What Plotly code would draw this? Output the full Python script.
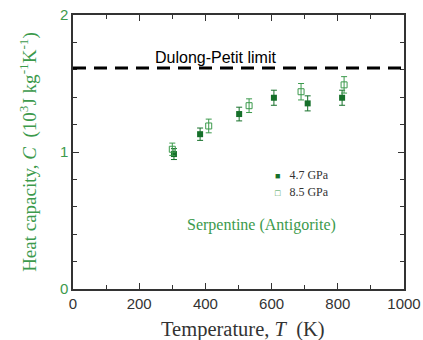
import plotly.graph_objects as go

T_47 = [305, 384, 502, 607, 709, 813]
C_47 = [0.985, 1.13, 1.277, 1.396, 1.355, 1.396]
E_47 = [0.04, 0.045, 0.05, 0.055, 0.055, 0.055]

T_85 = [300, 410, 532, 689, 819]
C_85 = [1.02, 1.19, 1.338, 1.44, 1.49]
E_85 = [0.045, 0.05, 0.05, 0.06, 0.06]

dulong_petit = 1.613

dark_green = "#16702a"
light_green = "#3c9a4c"
serif = "Liberation Serif, Times New Roman"
sans = "Liberation Sans, Arial"

fig = go.Figure()
fig.add_trace(go.Scatter(
    x=T_47, y=C_47, mode="markers", name="4.7 GPa", showlegend=False,
    marker=dict(symbol="square", size=6, color=dark_green),
    error_y=dict(type="data", array=E_47, color=dark_green, thickness=1, width=3),
))
fig.add_trace(go.Scatter(
    x=T_85, y=C_85, mode="markers", name="8.5 GPa", showlegend=False,
    marker=dict(symbol="square-open", size=6, color=light_green, line=dict(width=1)),
    error_y=dict(type="data", array=E_85, color=light_green, thickness=1, width=3),
))
fig.add_shape(type="line", xref="x", yref="y", x0=0, x1=1000, y0=dulong_petit, y1=dulong_petit,
              line=dict(color="black", width=3, dash="13px,8px"))

fig.add_annotation(x=0.432, xref="paper", y=dulong_petit, yref="y", yshift=11,
                   text="Dulong-Petit limit", showarrow=False,
                   font=dict(family=sans, size=16, color="black"), xanchor="center")
fig.add_annotation(x=0.568, xref="paper", y=0.467, yref="y",
                   text="Serpentine (Antigorite)", showarrow=False,
                   font=dict(family=serif, size=16, color=light_green))

# legend drawn as text
fig.add_annotation(x=0.605, xref="paper", y=(289 - 175) / 137, yref="y", xanchor="left",
                   text=f"<span style='color:{dark_green};font-size:9px'>■</span>   4.7 GPa", showarrow=False,
                   font=dict(family=serif, size=12, color="#333"))
fig.add_annotation(x=0.605, xref="paper", y=(289 - 192) / 137, yref="y", xanchor="left",
                   text=f"<span style='color:{light_green};font-size:9px'>□</span>   8.5 GPa", showarrow=False,
                   font=dict(family=serif, size=12, color="#333"))

# x-axis title
fig.add_annotation(x=0.514, xref="paper", y=0, yref="paper", yshift=-40, yanchor="middle",
                   text="Temperature, <i>T</i>  (K)", showarrow=False,
                   font=dict(family=serif, size=20.5, color="#333"))

fig.update_layout(
    width=423, height=340,
    margin=dict(l=73, r=19, t=15, b=51),
    paper_bgcolor="white", plot_bgcolor="white",
    showlegend=False,
    xaxis=dict(range=[0, 1000], tickvals=[0, 200, 400, 600, 800, 1000], automargin=False,
               ticklabeloverflow="allow",
               ticks="inside", ticklen=6, tickcolor="#333", mirror="ticks",
               showline=True, linecolor="#333", linewidth=1.5, showgrid=False, zeroline=False,
               minor=dict(tickvals=[100, 300, 500, 700, 900], ticks="inside", ticklen=4, tickcolor="#333"),
               tickfont=dict(family=sans, size=15, color="#333")),
    yaxis=dict(range=[0, 2], tickvals=[0, 1, 2], automargin=False,
               ticklabeloverflow="allow",
               ticks="inside", ticklen=6, tickcolor="#333", mirror="ticks",
               showline=True, linecolor="#333", linewidth=1.5, showgrid=False, zeroline=False,
               minor=dict(tickvals=[0.2, 0.4, 0.6, 0.8, 1.2, 1.4, 1.6, 1.8], ticks="inside", ticklen=4, tickcolor="#333"),
               tickfont=dict(family=sans, size=15, color=light_green),
               title=dict(text="Heat capacity, <i>C</i>  (10<sup>3</sup>J kg<sup>-1</sup>K<sup>-1</sup>)", standoff=18,
                          font=dict(family=serif, size=19, color=light_green))),
)

fig.write_html("out.html", config={"displayModeBar": False},
               post_script="document.body.style.margin='0';document.body.style.overflow='hidden';")
